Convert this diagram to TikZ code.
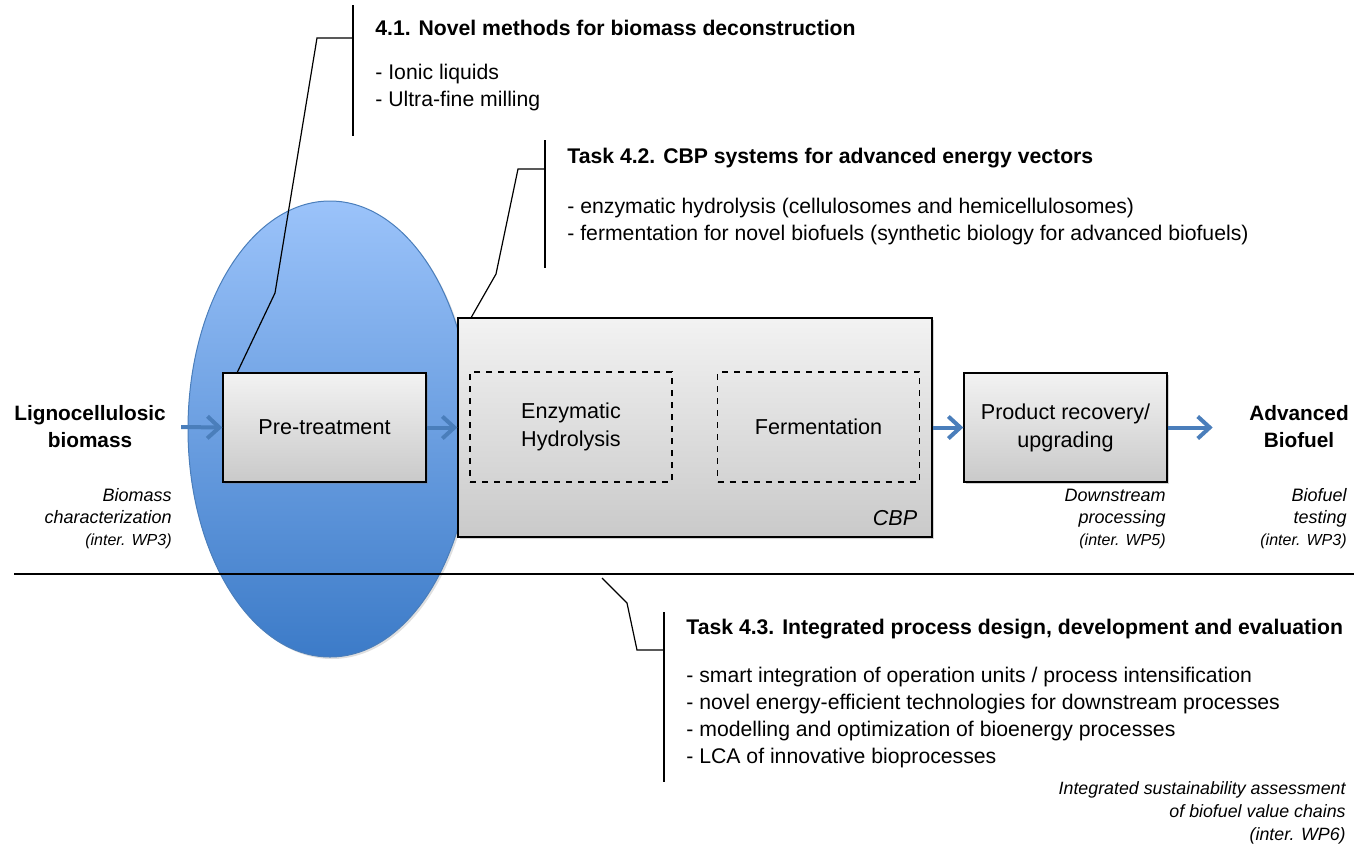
\documentclass[tikz,border=0pt]{standalone}
\usepackage{fontspec}
\setmainfont{Liberation Sans}
\usetikzlibrary{shapes.geometric}
\usetikzlibrary{shadows}
\usetikzlibrary{arrows.meta}
\usetikzlibrary{calc}

\definecolor{flowblue}{RGB}{74,126,187}
\definecolor{zonetop}{RGB}{155,195,250}
\definecolor{zonebot}{RGB}{60,123,200}

\tikzset{
  procbox/.style={draw=black, line width=0.7pt, top color=gray!10, bottom color=gray!42,
    minimum width=101.5pt, minimum height=54.5pt, align=center, inner sep=0pt,
    font=\fontsize{10.8}{14}\selectfont,
    drop shadow={shadow xshift=1.2pt, shadow yshift=-1.2pt, opacity=0.35}},
  subbox/.style={draw=black, dashed, line width=0.6pt, minimum width=101pt,
    minimum height=55pt, align=center, inner sep=0pt, font=\fontsize{10.8}{14}\selectfont},
  flow/.style={-{Straight Barb[length=6pt,width=11pt]}, line width=2pt, flowblue},
  callout/.style={line width=0.6pt},
  separator/.style={line width=1.1pt},
  endpoint/.style={font=\bfseries\fontsize{10.4}{13.5}\selectfont, align=center, inner sep=0pt},
  wplabel/.style={font=\itshape\fontsize{9}{11}\selectfont, align=right, anchor=east, inner sep=0pt},
  taskhead/.style={font=\bfseries\fontsize{10.6}{12}\selectfont, anchor=west, inner sep=0pt},
  tasklist/.style={font=\fontsize{10.6}{13.5}\selectfont, align=left, anchor=west, inner sep=0pt},
}

\newcommand{\interwp}[1]{{\fontsize{8}{11}\selectfont(inter. #1)}}

\begin{document}
\begin{tikzpicture}[x=0.5pt, y=-0.5pt]

\useasboundingbox (0,0) rectangle (1354,847);

% pre-treatment zone
\node [ellipse, draw=flowblue, line width=0.5pt, top color=zonetop, bottom color=zonebot,
  minimum width=142pt, minimum height=228pt, inner sep=0pt,
  drop shadow={shadow xshift=1pt, shadow yshift=-1pt, opacity=0.25}] (zone) at (330,429) {};

% process chain
\node [procbox] (pretreat) at (324.5,427.5) {Pre-treatment};
\node [procbox, minimum width=237pt, minimum height=109.5pt] (cbp) at (695,427.5) {};
\node [subbox] (hydro) at (571,427) {Enzymatic\\Hydrolysis};
\node [subbox] (ferment) at (818.5,427) {Fermentation};
\node [font=\itshape\fontsize{10.8}{14}\selectfont, anchor=base east, inner sep=0pt]
  (cbplabel) at ([xshift=-7.5pt, yshift=6pt]cbp.south east) {CBP};
\node [procbox] (recovery) at (1065.5,427.5) {Product recovery/\\upgrading};

\node [endpoint] (biomass) at (90,427) {Lignocellulosic\\biomass};
\node [endpoint] (biofuel) at (1299,427) {Advanced\\Biofuel};

\draw[flow] ([xshift=7.5pt]biomass.east) -- (pretreat.west);
\draw[flow] (pretreat.east) -- (cbp.west);
\draw[flow] (cbp.east) -- (recovery.west);
\draw[flow] (recovery.east) -- ([xshift=22.5pt]recovery.east);

% work package links
\node [wplabel] (charact) at (172,519) {Biomass\\characterization\\\interwp{WP3}};
\node [wplabel] (downstream) at (1166,519) {Downstream\\processing\\\interwp{WP5}};
\node [wplabel] (testing) at (1347,519) {Biofuel\\testing\\\interwp{WP3}};
\node [wplabel, font=\itshape\fontsize{8.9}{11.5}\selectfont] (sustain) at (1346,813)
  {Integrated sustainability assessment\\of biofuel value chains\\(inter. WP6)};

% separator
\coordinate (sepL) at (14,574);
\coordinate (sepR) at (1354,574);
\draw[separator] (sepL) -- (sepR);

% task 4.1
\node [taskhead] (head41) at (375,28) {4.1. Novel methods for biomass deconstruction};
\node [tasklist] (list41) at (375,88) {- Ionic liquids\\- Ultra-fine milling};
\coordinate (bar41a) at (353,5);
\coordinate (bar41b) at (353,136);
\draw[callout] (bar41a) -- (bar41b);
\draw[callout] ([xshift=7.5pt]pretreat.north west) -- (275,293) -- (317,38) -- (353,38);

% task 4.2
\node [taskhead] (head42) at (567,158) {Task 4.2. CBP systems for advanced energy vectors};
\node [tasklist] (list42) at (567,221.5)
  {- enzymatic hydrolysis (cellulosomes and hemicellulosomes)\\
   - fermentation for novel biofuels (synthetic biology for advanced biofuels)};
\coordinate (bar42a) at (545,140);
\coordinate (bar42b) at (545,268);
\draw[callout] (bar42a) -- (bar42b);
\draw[callout] ([xshift=7pt]cbp.north west) -- (496,274) -- (518,169) -- (545,169);

% task 4.3
\node [taskhead] (head43) at (686,629) {Task 4.3. Integrated process design, development and evaluation};
\node [tasklist] (list43) at (686,718)
  {- smart integration of operation units / process intensification\\
   - novel energy-efficient technologies for downstream processes\\
   - modelling and optimization of bioenergy processes\\
   - LCA of innovative bioprocesses};
\coordinate (bar43a) at (664,612);
\coordinate (bar43b) at (664,782);
\coordinate (link43) at (602,578);
\draw[callout] (bar43a) -- (bar43b);
\draw[callout] (link43) -- (627,603) -- (637,650) -- (664,650);

\end{tikzpicture}
\end{document}
